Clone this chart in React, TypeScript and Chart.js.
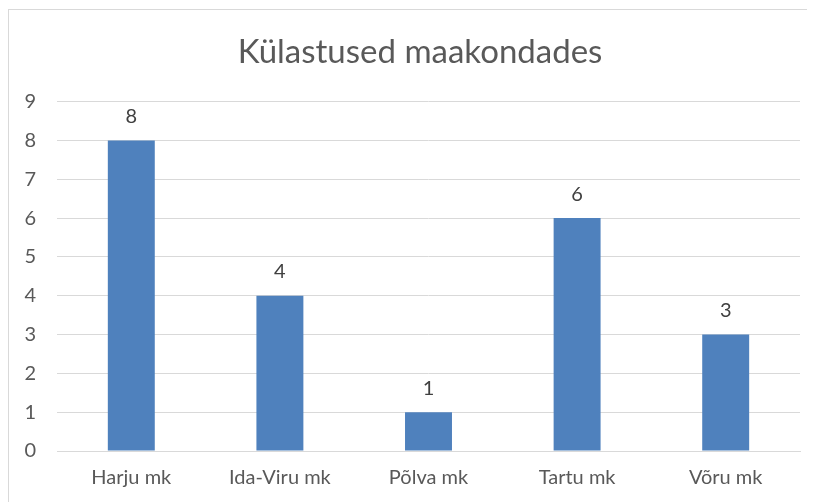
import React, { useEffect, useRef } from "react";
import { Chart, registerables } from "chart.js";

Chart.register(...registerables);

const categories = ["Harju mk", "Ida-Viru mk", "Põlva mk", "Tartu mk", "Võru mk"];
const visits = [8, 4, 1, 6, 3];
const chartTitle = "Külastused maakondades";
const yMin = 0;
const yMax = 9;

const FONT = "Lato, 'Open Sans', sans-serif";
const TITLE_SIZE = 33;
const TITLE_PAD_TOP = 22;

const dataLabels = {
  id: "dataLabels",
  afterDatasetsDraw(chart: any) {
    const ctx = chart.ctx;
    const meta = chart.getDatasetMeta(0);
    ctx.save();
    ctx.font = `20px ${FONT}`;
    ctx.fillStyle = "#404040";
    ctx.textAlign = "center";
    ctx.textBaseline = "middle";
    meta.data.forEach((bar: any, i: number) => {
      ctx.fillText(String(chart.data.datasets[0].data[i]), bar.x, bar.y - 24);
    });
    ctx.restore();
  },
};

const centeredTitle = {
  id: "centeredTitle",
  afterDraw(chart: any) {
    const tb = chart.titleBlock;
    if (!tb) return;
    const ctx = chart.ctx;
    ctx.save();
    ctx.font = `${TITLE_SIZE}px ${FONT}`;
    ctx.fillStyle = "#595959";
    ctx.textAlign = "center";
    ctx.textBaseline = "middle";
    ctx.fillText(chartTitle, chart.width / 2 + 8, tb.top + TITLE_PAD_TOP + (TITLE_SIZE * 1.2) / 2 + 1);
    ctx.restore();
  },
};

export default function App() {
  const ref = useRef<HTMLCanvasElement | null>(null);
  useEffect(() => {
    if (!ref.current) return;
    const chart = new Chart(ref.current, {
      type: "bar",
      data: {
        labels: categories,
        datasets: [
          {
            data: visits,
            backgroundColor: "#4f81bd",
            barPercentage: 0.316,
            categoryPercentage: 1,
          },
        ],
      },
      options: {
        animation: false,
        responsive: false,
        maintainAspectRatio: false,
        layout: { padding: { left: 0, right: 15, top: 0, bottom: 0 } },
        plugins: {
          legend: { display: false },
          tooltip: { enabled: false },
          title: {
            display: true,
            text: chartTitle,
            color: "rgba(0,0,0,0)",
            font: { family: FONT, size: TITLE_SIZE, weight: "normal" },
            padding: { top: TITLE_PAD_TOP, bottom: 30 },
          },
        },
        scales: {
          x: {
            grid: { display: false, drawTicks: false },
            border: { display: true, color: "#d9d9d9", width: 1 },
            ticks: { color: "#595959", font: { family: FONT, size: 20 }, padding: 15 },
            afterFit(scale: any) {
              scale.height = 51;
            },
          },
          y: {
            min: yMin,
            max: yMax,
            ticks: { stepSize: 1, color: "#595959", font: { family: FONT, size: 20 }, padding: 21 },
            grid: { color: "#d9d9d9", drawTicks: false },
            border: { display: false },
            afterFit(scale: any) {
              scale.width = 48;
            },
          },
        },
      },
      plugins: [dataLabels, centeredTitle],
    });
    return () => chart.destroy();
  }, []);
  return (
    <div
      style={{
        position: "relative",
        top: 1,
        width: 830,
        height: 510,
        border: "1px solid #d9d9d9",
        boxSizing: "border-box",
        background: "#fff",
      }}
    >
      <canvas ref={ref} width={806} height={492} style={{ display: "block" }} />
    </div>
  );
}
